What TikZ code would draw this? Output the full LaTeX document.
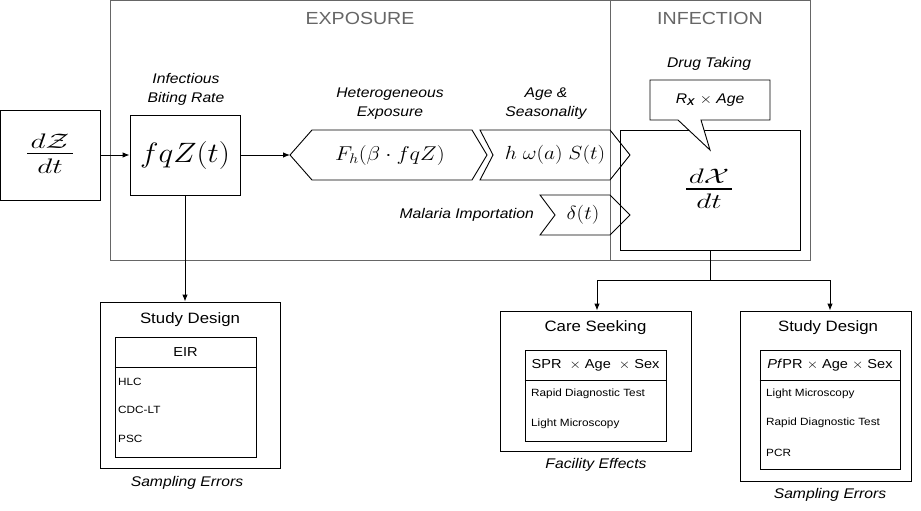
\documentclass[tikz,border=0pt]{standalone}
\usepackage{fix-cm}
\usepackage{amsmath}
\usepackage{graphicx}
\usepackage[no-math]{fontspec}
\setmainfont{Liberation Sans}[FakeStretch=1.12]
\usetikzlibrary{arrows.meta}
\newcommand{\mystretch}[2]{\scalebox{#1}[1]{#2}}
\begin{document}
\begin{tikzpicture}[x=1pt,y=-1pt,
  bx/.style={draw, line width=0.9pt, inner sep=0pt},
  shp/.style={draw, line width=0.9pt, line join=miter},
  frm/.style={draw=black!60, line width=1pt},
  sec/.style={text=black!60, font=\fontsize{17.5}{21}\selectfont, inner sep=0pt},
  lbl/.style={font=\fontsize{14}{19}\selectfont\itshape, align=center, inner sep=0pt},
  ttl/.style={font=\fontsize{15}{18}\selectfont, inner sep=0pt},
  hdr/.style={font=\fontsize{13}{16}\selectfont, inner sep=0pt},
  itm/.style={font=\fontsize{10.5}{13}\selectfont, inner sep=0pt, anchor=west},
  arr/.style={-{Latex[length=7pt,width=5.5pt]}, line width=0.9pt},
  con/.style={line width=0.9pt},
  frc/.style={inner sep=0pt, anchor=base, font=\fontsize{21}{24}\selectfont},
  fbar/.style={line width=1.6pt},
]
\useasboundingbox (0,0) rectangle (921,511);
% frame
\draw[frm] (110,0.5) rectangle (810,260);
\draw[frm] (610,0.5) -- (610,260);
\node[sec] (expo) at (360,18) {EXPOSURE};
\node[sec] (infe) at (710,18) {INFECTION};

% left boxes
\node[bx, minimum width=100pt, minimum height=90pt] (dZ) at (50,155) {};
\node[frc] (dZn) at (50,148) {\mystretch{1.4}{$d\mathcal{Z}$}};
\node[frc] (dZd) at (50,173) {\mystretch{1.4}{$dt$}};
\draw[fbar] (27,153.5) -- (73,153.5);
\node[bx, minimum width=110pt, minimum height=80pt] (fq) at (185,155)
  {\fontsize{28}{30}\selectfont\mystretch{1.12}{$fqZ(t)$}};
\node[lbl] (fqlab) at (186,89) {Infectious\\Biting Rate};

% hexagon
\draw[shp] (290,155) -- (312,130) -- (472,130) -- (487,155) -- (472,180) -- (312,180) -- cycle;
\coordinate (hexL) at (290,155);
\node[inner sep=0pt] (Fh) at (390,155) {\fontsize{20}{24}\selectfont\mystretch{1.12}{$F_h(\beta\cdot fqZ)$}};
\node[lbl] (helab) at (390,104) {Heterogeneous\\Exposure};

% chevron 1
\draw[shp] (480,130) -- (610,130) -- (630,155) -- (610,180) -- (480,180) -- (493,155) -- cycle;
\node[inner sep=0pt] (hw) at (555,155) {\fontsize{19}{24}\selectfont\mystretch{1.12}{$h\;\omega(a)\;S(t)$}};
\node[lbl] (aglab) at (546,104) {Age \&\\Seasonality};

% chevron 2
\draw[shp] (540,195) -- (610,195) -- (630,215) -- (610,235) -- (540,235) -- (555,215) -- cycle;
\node[inner sep=0pt] (dl) at (583,215) {\fontsize{19}{24}\selectfont\mystretch{1.12}{$\delta(t)$}};
\node[lbl, anchor=east] (malab) at (534,215) {Malaria Importation};

% infection box
\node[bx, minimum width=180pt, minimum height=120pt] (dX) at (710,190) {};
\node[frc] (dXn) at (709,183.5) {\mystretch{1.4}{$d\mathcal{X}$}};
\node[frc] (dXd) at (709,208.5) {\mystretch{1.4}{$dt$}};
\draw[fbar] (686,189) -- (732,189);

% callout
\draw[shp, fill=white] (650,80) -- (770,80) -- (770,120) -- (701,120) -- (710,150) -- (678,120) -- (650,120) -- cycle;
\node[inner sep=0pt, font=\fontsize{14}{18}\selectfont] (rx) at (710,100)
  {\textit{R}\textsubscript{\textbf{\textit{X}}} \mystretch{1.12}{$\times$} \textit{Age}};
\node[lbl] (drlab) at (709,64) {Drug Taking};

% arrows top
\draw[arr] (dZ.east) -- (fq.west);
\draw[arr] (fq.east) -- (hexL);

% left study design
\node[bx, minimum width=180pt, minimum height=166pt] (sd1) at (190,385) {};
\node[ttl] (sd1t) at (190,320) {Study Design};
\node[bx, minimum width=141pt, minimum height=120pt] (in1) at (185.5,397) {};
\draw[con] (in1.west |- 0,367) -- (in1.east |- 0,367);
\node[hdr] (eir) at (185.5,352) {EIR};
\node[itm] (i1a) at (118,382) {HLC};
\node[itm] (i1b) at (118,410) {CDC-LT};
\node[itm] (i1c) at (118,439) {PSC};
\node[lbl] (se1) at (187,483) {Sampling Errors};
\draw[arr] (fq.south) -- (fq.south |- sd1.north);

% care seeking
\node[bx, minimum width=191pt, minimum height=140pt] (care) at (595.5,381) {};
\node[ttl] (caret) at (595.5,328) {Care Seeking};
\node[bx, minimum width=141pt, minimum height=91pt] (in2) at (595.5,395.5) {};
\draw[con] (in2.west |- 0,380) -- (in2.east |- 0,380);
\node[hdr] (spr) at (595.5,365) {SPR \ \mystretch{1.12}{$\times$} Age \ \mystretch{1.12}{$\times$} Sex};
\node[itm] (i2a) at (531,394) {Rapid Diagnostic Test};
\node[itm] (i2b) at (531,424) {Light Microscopy};
\node[lbl] (fe) at (596,465) {Facility Effects};

% right study design
\node[bx, minimum width=171pt, minimum height=170pt] (sd2) at (825.5,396) {};
\node[ttl] (sd2t) at (828,328) {Study Design};
\node[bx, minimum width=140pt, minimum height=119pt] (in3) at (830,409.5) {};
\draw[con] (in3.west |- 0,380) -- (in3.east |- 0,380);
\node[hdr] (pfpr) at (830,365) {\textit{Pf}PR \mystretch{1.12}{$\times$} Age \mystretch{1.12}{$\times$} Sex};
\node[itm] (i3a) at (766,394) {Light Microscopy};
\node[itm] (i3b) at (766,423) {Rapid Diagnostic Test};
\node[itm] (i3c) at (766,453) {PCR};
\node[lbl] (se2) at (830,495) {Sampling Errors};

% bottom connectors
\coordinate (jn) at (710,280);
\draw[con] (dX.south) -- (jn);
\draw[arr] (jn) -| ([xshift=1.5pt]care.north);
\draw[arr] (jn) -| ([xshift=4.5pt]sd2.north);
\end{tikzpicture}
\end{document}
